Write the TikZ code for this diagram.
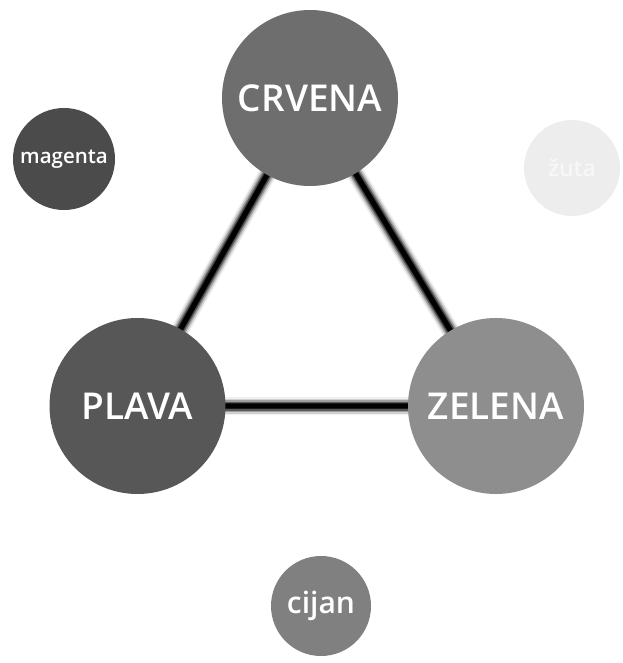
\documentclass[tikz,border=0pt]{standalone}
\usepackage{fontspec}
\setmainfont{Open Sans}[BoldFont={Open Sans Semibold}]
\definecolor{cCrvena}{HTML}{6E6E6E}
\definecolor{cPlava}{HTML}{575757}
\definecolor{cZelena}{HTML}{8E8E8E}
\definecolor{cMagenta}{HTML}{4B4B4B}
\definecolor{cCijan}{HTML}{808080}
\definecolor{cZuta}{HTML}{EDEDED}
\tikzset{
  disc/.style={circle, inner sep=0pt, text=white, font=\bfseries},
  big/.style={disc, minimum size=176pt, font=\fontsize{37}{40}\selectfont\bfseries},
  blurline/.style={line cap=butt}
}
\begin{document}
\begin{tikzpicture}[x=1pt,y=-1pt]
\useasboundingbox (0,0) rectangle (622,663);
% coordinates for circle centres
\coordinate (cr) at (310,98);
\coordinate (pl) at (137.5,406);
\coordinate (ze) at (496,406);
% blurred connectors
\foreach \w/\c in {18/6,15/18,12/38,9/65,6/90,4.5/100}{
  \draw[blurline, line width=\w pt, black!\c] (cr) -- (pl);
  \draw[blurline, line width=\w pt, black!\c] (cr) -- (ze);
  \draw[blurline, line width=\w pt, black!\c] (pl) -- (ze);
}
\node[big, fill=cCrvena] (crvena) at (cr) {CRVENA};
\node[big, fill=cPlava] (plava) at (pl) {PLAVA};
\node[big, fill=cZelena] (zelena) at (ze) {ZELENA};
\node[disc, fill=cMagenta, minimum size=102pt, font=\fontsize{20.5}{24}\selectfont\bfseries] (magenta) at (64,159) {magenta};
\node[disc, fill=cZuta, text=white!97!black, minimum size=96pt, font=\fontsize{23}{27}\selectfont\bfseries] (zuta) at (572,168) {žuta};
\node[disc, fill=cCijan, minimum size=100pt, font=\fontsize{30}{34}\selectfont\bfseries] (cijan) at (321,606) {cijan};
\end{tikzpicture}
\end{document}
